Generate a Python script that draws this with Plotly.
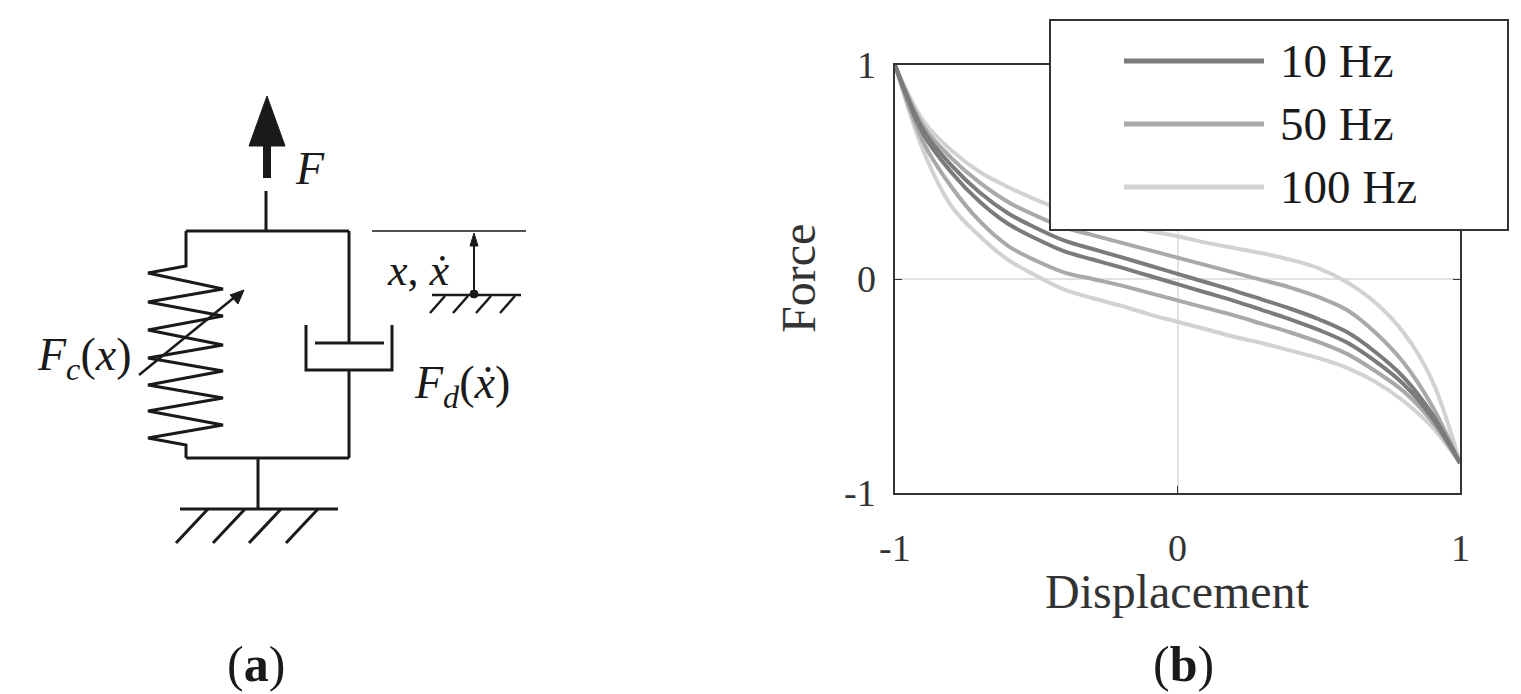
import plotly.graph_objects as go

disp = [-1,-0.9,-0.8,-0.7,-0.6,-0.5,-0.4,-0.3,-0.2,-0.1,0,0.1,0.2,0.3,0.4,0.5,0.6,0.7,0.8,0.9,1]
hz10_up = [1,0.696,0.531,0.404,0.307,0.238,0.179,0.140,0.102,0.063,0.024,-0.015,-0.054,-0.096,-0.139,-0.188,-0.248,-0.341,-0.458,-0.628,-0.86]
hz10_lo = [1,0.678,0.498,0.361,0.258,0.188,0.129,0.091,0.054,0.015,-0.024,-0.063,-0.102,-0.145,-0.189,-0.238,-0.297,-0.384,-0.491,-0.646,-0.86]
hz50_up = [1,0.715,0.565,0.45,0.36,0.295,0.24,0.205,0.17,0.135,0.1,0.065,0.03,-0.005,-0.04,-0.085,-0.145,-0.25,-0.39,-0.59,-0.86]
hz50_lo = [1,0.64,0.43,0.27,0.155,0.085,0.03,0,-0.03,-0.065,-0.1,-0.135,-0.17,-0.21,-0.25,-0.295,-0.35,-0.43,-0.525,-0.665,-0.86]
hz100_up = [1,0.74,0.6,0.5,0.43,0.37,0.32,0.285,0.255,0.225,0.2,0.17,0.145,0.12,0.09,0.05,-0.015,-0.11,-0.25,-0.47,-0.86]
hz100_lo = [1,0.6,0.34,0.2,0.09,0.015,-0.05,-0.09,-0.125,-0.165,-0.2,-0.235,-0.27,-0.3,-0.335,-0.37,-0.415,-0.48,-0.57,-0.69,-0.86]
labels = ["10 Hz", "50 Hz", "100 Hz"]
colors = ["#7b7b7b", "#a9a9a9", "#d2d2d2"]
ticks = [-1, 0, 1]

W, H = 1521, 694
SERIF = "Liberation Serif"
fig = go.Figure()
series = [(hz10_up, hz10_lo), (hz50_up, hz50_lo), (hz100_up, hz100_lo)]
for i in [2, 1, 0]:
    up, lo = series[i]
    for ys in (up, lo):
        fig.add_trace(go.Scatter(x=disp, y=ys, mode="lines", line=dict(color=colors[i], width=4, shape="spline"),
                                 showlegend=False, hoverinfo="skip"))

x0, x1, yt, yb = 887, 1452, 57, 485
fig.update_layout(
    width=W, height=H, margin=dict(l=0, r=0, t=0, b=0), paper_bgcolor="white", plot_bgcolor="rgba(0,0,0,0)",
    showlegend=False,
    xaxis=dict(domain=[x0/W, x1/W], range=[-1, 1], tickvals=ticks, ticktext=["", "", ""], showgrid=True,
               gridcolor="#e2e2e2", gridwidth=1.5, zeroline=False, showline=True, linecolor="#333", linewidth=2,
               mirror="allticks", ticks="inside", ticklen=7, tickcolor="#333", fixedrange=True),
    yaxis=dict(domain=[1-yb/H, 1-yt/H], range=[-1, 1], tickvals=ticks, ticktext=["", "", ""], showgrid=True,
               gridcolor="#e2e2e2", gridwidth=1.5, zeroline=False, showline=True, linecolor="#333", linewidth=2,
               mirror="allticks", ticks="inside", ticklen=7, tickcolor="#333", fixedrange=True),
)

shapes = []
ann = []
def X(x): return x / W
def Y(y): return 1 - y / H
def line(xa, ya, xb, yb, w=3, c="#1a1a1a"):
    shapes.append(dict(type="line", xref="paper", yref="paper", x0=X(xa), y0=Y(ya), x1=X(xb), y1=Y(yb),
                       line=dict(color=c, width=w)))
def path(pts, w=3, fill=None):
    d = "M " + " L ".join(f"{X(a):.5f},{Y(b):.5f}" for a, b in pts)
    if fill:
        d += " Z"
    shapes.append(dict(type="path", xref="paper", yref="paper", path=d, line=dict(color="#1a1a1a", width=w),
                       fillcolor=fill if fill else "rgba(0,0,0,0)"))
def text(x, y, t, size=30, xa="center", col="#1a1a1a", angle=0):
    ann.append(dict(xref="paper", yref="paper", x=X(x), y=Y(y), text=t, showarrow=False, xanchor=xa,
                    yanchor="middle", textangle=angle, font=dict(family=SERIF, size=size, color=col)))

# tick labels and titles for plot (b)
for v, xp in zip(ticks, [x0, (x0+x1)/2, x1]):
    text(xp, 540, str(v), 38, col="#333")
for v, yp in zip(ticks, [yb, (yt+yb)/2, yt]):
    text(870, yp, str(v), 38, "right", col="#333")
text((x0+x1)/2, 583, "Displacement", 48, col="#333")
text(790, (yt+yb)/2, "Force", 48, col="#333", angle=-90)

# legend (drawn)
shapes.append(dict(type="rect", xref="paper", yref="paper", x0=X(1042), y0=Y(12), x1=X(1500), y1=Y(222),
                   line=dict(color="#333", width=2), fillcolor="white"))
for i, (lab, col) in enumerate(zip(labels, colors)):
    yy = 53 + i*63
    line(1116, yy, 1256, yy, 5, col)
    text(1270, yy, lab, 47, "left")

# schematic (a)
path([(259, 170), (259, 132)], 8)
path([(259, 88), (241, 138), (277, 138)], 1, fill="#1a1a1a")
line(258, 183, 258, 223)
line(178, 223, 341, 223)
spring = [(178, 223), (178, 258), (140, 265), (215, 281), (140, 294), (215, 308), (140, 322), (215, 337),
          (140, 350), (215, 363), (140, 377), (215, 390), (140, 403), (215, 417), (140, 430), (178, 437), (178, 450)]
path(spring)
line(178, 450, 341, 450)
line(131, 367, 228, 288, 2.5)
path([(236, 282), (222, 287), (230, 296)], 1, fill="#1a1a1a")
line(341, 223, 341, 335)
line(307, 335, 376, 335)
path([(298, 317), (298, 362), (384, 362), (384, 317)])
line(341, 362, 341, 450)
line(250, 450, 250, 501)
line(172, 501, 330, 501)
for xt in [200, 237, 273, 310]:
    line(xt, 501, xt-32, 535)
line(364, 223, 518, 223, 1.5)
line(466, 286, 466, 236, 2)
path([(466, 225), (462, 238), (470, 238)], 1, fill="#1a1a1a")
shapes.append(dict(type="circle", xref="paper", yref="paper", x0=X(462), y0=Y(282), x1=X(470), y1=Y(290),
                   fillcolor="#1a1a1a", line=dict(color="#1a1a1a", width=1)))
line(424, 287, 513, 287, 2.5)
for xt in [437, 460, 483, 507]:
    line(xt, 288, xt-15, 305, 2.5)

text(302, 160, "<i>F</i>", 46)
text(410, 262, "<i>x</i>, <i>ẋ</i>", 44)
text(76, 350, "<i>F</i><sub><i>c</i></sub>(<i>x</i>)", 46)
text(454, 378, "<i>F</i><sub><i>d</i></sub>(<i>ẋ</i>)", 46)
text(248, 656, "(<b>a</b>)", 50)
text(1175, 656, "(<b>b</b>)", 50)

fig.update_layout(shapes=shapes, annotations=ann)
fig.write_html("out.html")
